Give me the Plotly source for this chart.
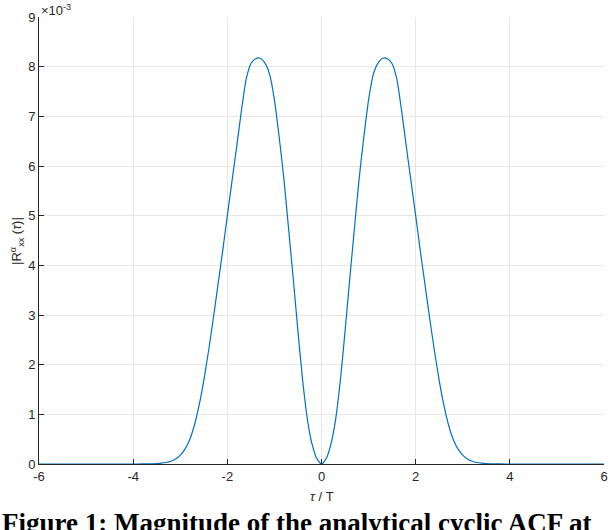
import plotly.graph_objects as go

# |R_xx^alpha(tau)|, in units of 1e-3
tau = [-6.0, -5.0, -4.0, -3.8, -3.7, -3.6, -3.5, -3.4, -3.3, -3.2, -3.1,
       -3.0, -2.9, -2.8, -2.7, -2.6, -2.5, -2.4, -2.3, -2.2, -2.1, -2.0, -1.9, -1.8, -1.7,
       -1.6, -1.5, -1.4, -1.3, -1.2, -1.1, -1.0, -0.9, -0.8, -0.7, -0.6, -0.5, -0.4, -0.3,
       -0.2, -0.1, 0.0,
       0.1, 0.2, 0.3, 0.4, 0.5, 0.6, 0.7, 0.8, 0.9, 1.0, 1.1, 1.2, 1.3, 1.4, 1.5, 1.6,
       1.7, 1.8, 1.9, 2.0, 2.1, 2.2, 2.3, 2.4, 2.5, 2.6, 2.7, 2.8, 2.9, 3.0, 3.1, 3.2,
       3.3, 3.4, 3.5, 3.6, 3.7, 3.8, 4.0, 5.0, 6.0]
r_mag = [0.0, 0.0, 0.0, 0.001, 0.002, 0.004, 0.008, 0.016, 0.03, 0.055, 0.1,
         0.18, 0.3, 0.49, 0.78, 1.18, 1.68, 2.27, 2.92, 3.6, 4.28, 5.0, 5.7, 6.4, 7.12,
         7.75, 8.06, 8.16, 8.17, 8.07, 7.84, 7.33, 6.59, 5.75, 4.75, 3.73, 2.67, 1.68, 0.9,
         0.4, 0.11, 0.0,
         0.11, 0.4, 0.9, 1.68, 2.67, 3.73, 4.75, 5.75, 6.59, 7.33, 7.84, 8.07, 8.17, 8.16, 8.06, 7.75,
         7.12, 6.4, 5.7, 5.0, 4.28, 3.6, 2.92, 2.27, 1.68, 1.18, 0.78, 0.49, 0.3, 0.18, 0.1, 0.055,
         0.03, 0.016, 0.008, 0.004, 0.002, 0.001, 0.0, 0.0, 0.0]

x_ticks = [-6, -4, -2, 0, 2, 4, 6]
x_ticklabels = ["-6", "-4", "-2", "0", "2", "4", "6"]
y_ticks = [0, 1, 2, 3, 4, 5, 6, 7, 8, 9]
y_ticklabels = [str(v) for v in y_ticks]

axis_col = "#262626"
grid_col = "#e6e6e6"
font_main = "Liberation Sans, Arial, sans-serif"

fig = go.Figure()
fig.add_trace(go.Scatter(x=tau, y=r_mag, mode="lines",
                         line=dict(color="#0072BD", width=1.2, shape="spline", smoothing=0.6),
                         hoverinfo="skip", showlegend=False, cliponaxis=False))

ax_common = dict(showline=True, linecolor=axis_col, linewidth=1, ticks="inside", ticklen=5,
                 tickcolor=axis_col, showgrid=True, gridcolor=grid_col, gridwidth=1,
                 zeroline=False, mirror=False, automargin=False,
                 tickfont=dict(family=font_main, size=13, color=axis_col))

fig.update_xaxes(range=[-6, 6], tickvals=x_ticks, ticktext=x_ticklabels, **ax_common)
fig.update_yaxes(range=[0, 9], tickvals=y_ticks, ticktext=y_ticklabels, **ax_common)

fig.update_layout(
    width=610, height=530,
    margin=dict(l=39, r=6, t=17, b=66),
    paper_bgcolor="white", plot_bgcolor="white",
    annotations=[
        dict(text="×10<sup>-3</sup>", xref="paper", yref="paper", x=0.0, y=1.0,
             xanchor="left", yanchor="bottom", yshift=-3, showarrow=False,
             font=dict(family=font_main, size=13, color=axis_col)),
        dict(text="|R<sup>α</sup><sub>xx</sub> (<i>τ</i>)|", xref="paper", yref="paper",
             x=-0.04, y=0.5, xanchor="center", yanchor="middle", textangle=-90,
             showarrow=False, font=dict(family=font_main, size=13, color=axis_col)),
        dict(text="<i>τ</i> / T", xref="paper", yref="paper", x=0.5, y=-0.052,
             xanchor="center", yanchor="top", showarrow=False,
             font=dict(family=font_main, size=13, color=axis_col)),
        dict(text="<b>Figure 1: Magnitude of the analytical cyclic ACF at</b>",
             xref="paper", yref="paper", x=-0.069, y=-0.094, xanchor="left", yanchor="top",
             showarrow=False, font=dict(family="Liberation Serif, Times New Roman, serif",
                                        size=27, color="black")),
    ],
)

# drop the default page margin so the figure sits at the window corner
fig.write_html("out.html", config={"displayModeBar": False},
               post_script="document.body.style.margin = '0px';")
